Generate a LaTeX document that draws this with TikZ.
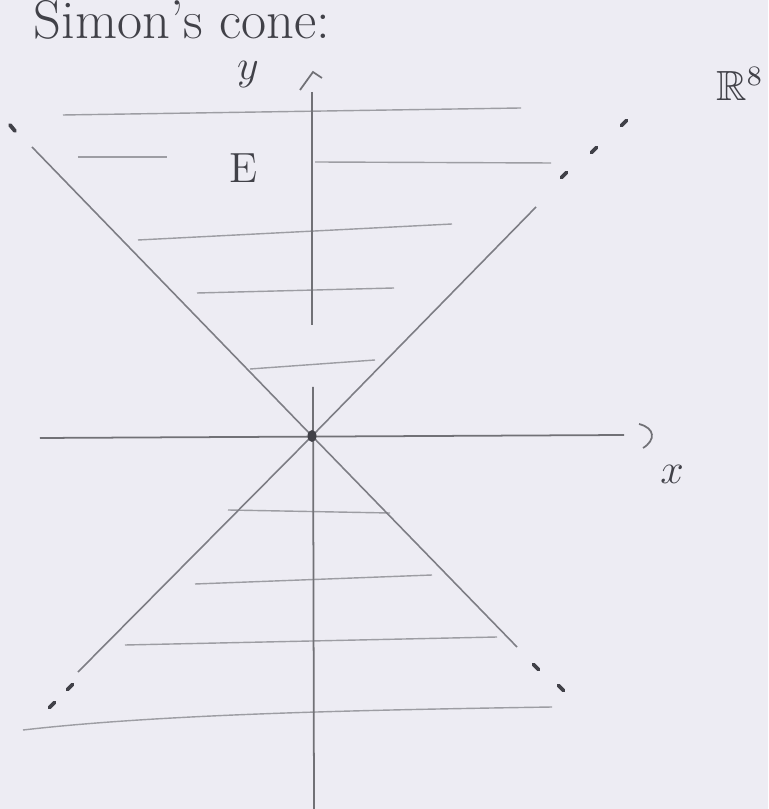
\documentclass[tikz,border=0pt]{standalone}
\usepackage{amssymb}
\usetikzlibrary{positioning}
\definecolor{paper}{RGB}{237,236,243}
\definecolor{pencil}{RGB}{125,125,132}
\definecolor{lead}{RGB}{65,65,72}

\begin{document}
\begin{tikzpicture}[
    hatch/.style={draw=pencil!75, line width=0.4pt},
    coneline/.style={draw=pencil, line width=0.45pt},
    axisline/.style={draw=lead!75, line width=0.5pt},
    dashtick/.style={draw=lead, line width=1.1pt, line cap=round},
    handtext/.style={text=lead, inner sep=0pt}
]
    % paper and fixed frame
    \fill[paper] (-3.12,-3.73) rectangle (4.56,4.36);
    \useasboundingbox (-3.12,-3.73) rectangle (4.56,4.36);

    % title at the top edge
    \node[handtext, anchor=base west, font=\fontsize{15.5}{18}\selectfont] (title) at (-2.79,3.97) {Simon's cone:};

    % vertex of the cone
    \coordinate (O) at (0,0);

    % horizontal hatching of the region E
    \draw[hatch] (-2.49,3.21) -- (2.09,3.28);
    \draw[hatch] (-2.34,2.79) -- (-1.45,2.79); % short piece left of E
    \draw[hatch] (0.03,2.74) -- (2.39,2.73);
    \draw[hatch] (-1.74,1.96) -- (1.40,2.12);
    \draw[hatch] (-1.15,1.43) -- (0.82,1.48);
    \draw[hatch] (-0.62,0.67) -- (0.63,0.76);
    % lower half
    \draw[hatch] (-0.84,-0.74) -- (0.78,-0.77);
    \draw[hatch] (-1.17,-1.48) -- (1.20,-1.39);
    \draw[hatch] (-1.87,-2.09) -- (1.85,-2.01);
    \draw[hatch] (-2.89,-2.94) .. controls (-1.5,-2.78) and (0.5,-2.74) .. (2.40,-2.71);

    % the two lines of the cone
    \coordinate (aTop) at (-2.80,2.89);
    \coordinate (aBot) at (2.05,-2.11);
    \coordinate (bBot) at (-2.34,-2.36);
    \coordinate (bTop) at (2.24,2.29);
    \draw[coneline] (aTop) -- (O) -- (aBot);
    \draw[coneline] (bBot) -- (O) -- (bTop);

    % dashes continuing the cone
    \draw[dashtick] (-3.02,3.11) -- (-2.97,3.05);
    \foreach \px/\py in {2.24/-2.31, 2.49/-2.52}
        \draw[dashtick] (\px-0.025,\py+0.025) -- (\px+0.025,\py-0.025);
    \foreach \px/\py in {-2.42/-2.51, -2.60/-2.69, 2.52/2.61, 2.82/2.86, 3.12/3.13}
        \draw[dashtick] (\px-0.025,\py-0.025) -- (\px+0.025,\py+0.025);

    % y axis (with a small gap above the vertex)
    \coordinate (yTop) at (0,3.44);
    \coordinate (yGapA) at (0,1.11);
    \coordinate (yGapB) at (0.01,0.49);
    \coordinate (yBot) at (0.02,-3.73);
    \draw[axisline] (yTop) -- (yGapA);
    \draw[axisline] (yGapB) -- (yBot);
    \draw[axisline] (-0.12,3.46) -- (0.01,3.64) -- (0.10,3.58); % caret of y

    % x axis
    \coordinate (xLeft) at (-2.72,-0.02);
    \coordinate (xRight) at (3.12,0.01);
    \draw[axisline] (xLeft) -- (xRight);
    \draw[axisline] (3.27,0.12) .. controls (3.43,0.08) and (3.44,-0.04) .. (3.31,-0.12); % caret of x

    % vertex dot
    \fill[lead] (O) ellipse (0.045 and 0.06);

    % labels
    \node[handtext, font=\large] (ylab) at (-0.64,3.61) {$y$};
    \node[handtext, font=\large] (xlab) at (3.60,-0.38) {$x$};
    \node[handtext, font=\large] (Elab) at (-0.68,2.68) {E};
    \node[handtext, font=\large] (Rlab) at (4.28,3.52) {$\mathbb{R}^8$};
\end{tikzpicture}
\end{document}
